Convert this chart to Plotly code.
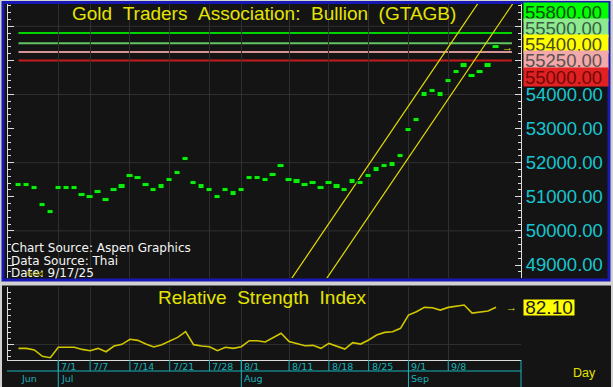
import plotly.graph_objects as go

W, H = 613, 387

# ---------------- data ----------------
dates = [
    "2025-06-24", "2025-06-25", "2025-06-26", "2025-06-27", "2025-06-30",
    "2025-07-01", "2025-07-02", "2025-07-03", "2025-07-04",
    "2025-07-07", "2025-07-08", "2025-07-09", "2025-07-10", "2025-07-11",
    "2025-07-14", "2025-07-15", "2025-07-16", "2025-07-17", "2025-07-18",
    "2025-07-21", "2025-07-22", "2025-07-23", "2025-07-24", "2025-07-25",
    "2025-07-28", "2025-07-29", "2025-07-30", "2025-07-31",
    "2025-08-01", "2025-08-04", "2025-08-05", "2025-08-06", "2025-08-07", "2025-08-08",
    "2025-08-11", "2025-08-12", "2025-08-13", "2025-08-14", "2025-08-15",
    "2025-08-18", "2025-08-19", "2025-08-20", "2025-08-21", "2025-08-22",
    "2025-08-25", "2025-08-26", "2025-08-27", "2025-08-28", "2025-08-29",
    "2025-09-01", "2025-09-02", "2025-09-03", "2025-09-04", "2025-09-05",
    "2025-09-08", "2025-09-09", "2025-09-10", "2025-09-11", "2025-09-12",
    "2025-09-15", "2025-09-16",
]

price = [
    51350, 51350, 51250, 50750, 50550,
    51250, 51250, 51250, 51050, 51000, 51150, 50900, 51200, 51300, 51600,
    51550, 51350, 51200, 51300, 51500, 51700, 52100, 51400, 51300, 51200,
    51000, 51200, 51100,
    51200, 51550, 51550, 51500, 51650, 51900, 51500, 51450, 51350, 51400,
    51250, 51400, 51300, 51200, 51450, 51400, 51600, 51800, 51900, 51950,
    52200,
    52950, 53250, 54000, 54100, 54000, 54400, 54650, 54850, 54550, 54650,
    54850, 55400,
]

rsi = [
    46.6, 46.6, 45.2, 39.7, 38.5,
    47.5, 47.5, 47.5, 45.7, 44.6, 46.6, 43.7, 48.6, 50.1, 54.4,
    53.5, 50.3, 47.8, 49.8, 52.7, 56.1, 61.0, 49.8, 48.6, 48.0,
    44.6, 47.5, 46.6,
    48.0, 53.2, 53.2, 52.1, 55.5, 59.6, 52.4, 50.9, 48.9, 49.2,
    46.6, 50.9, 48.6, 46.0, 51.5, 50.3, 53.8, 58.1, 60.4, 61.0,
    63.9,
    75.4, 78.3, 82.0, 81.7, 79.7, 82.0, 82.9, 84.0, 77.1, 78.0,
    78.8, 82.1,
]

tick_dates = ["2025-07-01", "2025-07-07", "2025-07-14", "2025-07-21", "2025-07-28",
              "2025-08-01", "2025-08-11", "2025-08-18", "2025-08-25", "2025-09-01",
              "2025-09-08"]
tick_labels = ["7/1", "7/7", "7/14", "7/21", "7/28", "8/1", "8/11", "8/18", "8/25",
               "9/1", "9/8"]
month_labels = ["Jun", "Jul", "Aug", "Sep"]

price_axis_ticks = [49000, 50000, 51000, 52000, 53000, 54000, 55000, 56000]
price_label_ticks = [49000, 50000, 51000, 52000, 53000, 54000]
price_grid = [50000, 52000, 54000, 56000]

level_values = [55800, 55500, 55250, 55000]
level_line_colors = ["#00d400", "#62c462", "#d49494", "#c41c1c"]
level_box_colors = ["#00ff00", "#8fe98f", "#f3a9a9", "#e12121"]
level_text_colors = ["#0b4a0b", "#35603f", "#5b5252", "#6e0808"]

# trend channel (anchor trading-day index, price) and slope per day
channel_anchors = [(41.0, 50906), (45.4, 50906)]
channel_slope = 344.6

rsi_ticks = [50]

# ---------------- geometry / styles ----------------
def px(x):
    return x / W


def py(y):
    return 1 - y / H


PLOT_L, PLOT_R = 7.5, 521
MAIN_T, MAIN_B = 4, 278
RSI_T, RSI_B = 287, 360
x_range = [-1.38, 63.14]
price_range = [48619, 56654]
rsi_range = [36.55, 99.6]

ARIAL = "Liberation Sans, Arial, sans-serif"
SMALL = "DejaVu Sans, Verdana, sans-serif"
YELLOW = "#e4e400"
CYAN = "#17c6d0"
CYAN2 = "#19b3bb"
AXIS = "#dcdcdc"
GRID = "#2f2f2f"
DARK = "#141414"
BAR_H = 125

n = len(dates)
idx = list(range(n))
pos = {d: i for i, d in enumerate(dates)}
tick_pos = [pos[d] for d in tick_dates]
month_pos = []
prev = None
for i, d in enumerate(dates):
    if d[5:7] != prev:
        month_pos.append(i)
        prev = d[5:7]

fig = go.Figure()

# trend channel
for ax_, ap in channel_anchors:
    xs = [ax_ - 12, ax_ + 22]
    ys = [ap + channel_slope * (x - ax_) for x in xs]
    fig.add_trace(go.Scatter(x=xs, y=ys, mode="lines", xaxis="x", yaxis="y",
                             line=dict(color="#e2de00", width=1.2), hoverinfo="skip"))

# price markers (small green rectangles)
fig.add_trace(go.Bar(x=idx, y=[BAR_H] * n, base=[p - BAR_H / 2 for p in price],
                     width=0.8, xaxis="x", yaxis="y2",
                     marker=dict(color="#10ee10", line=dict(color="#021802", width=0.9)),
                     hoverinfo="skip"))

# RSI
fig.add_trace(go.Scatter(x=idx, y=rsi, mode="lines", xaxis="x2", yaxis="y3",
                         line=dict(color="#d0c600", width=1.6), hoverinfo="skip"))

shapes = []
# panel backgrounds
shapes.append(dict(type="rect", xref="paper", yref="paper", x0=px(3), x1=px(609),
                   y0=py(280.5), y1=py(2), fillcolor=DARK, line=dict(width=0), layer="below"))
shapes.append(dict(type="rect", xref="paper", yref="paper", x0=px(2), x1=px(611),
                   y0=py(387), y1=py(285.5), fillcolor=DARK, line=dict(width=0), layer="below"))
# horizontal grid of price panel
for g in price_grid:
    shapes.append(dict(type="line", xref="x", yref="y", x0=x_range[0], x1=x_range[1],
                       y0=g, y1=g, line=dict(color=GRID, width=1), layer="below"))
# level lines
for v, c in zip(level_values, level_line_colors):
    shapes.append(dict(type="line", xref="x", yref="y", x0=0, x1=n + 1, y0=v, y1=v,
                       line=dict(color=c, width=2), layer="below"))
# blue frame around the price panel
shapes.append(dict(type="rect", xref="paper", yref="paper", x0=px(3), x1=px(609),
                   y0=py(280), y1=py(2.5), line=dict(color="#1818b4", width=3)))
# date strip lines
shapes.append(dict(type="line", xref="paper", yref="paper", x0=px(7), x1=px(PLOT_R),
                   y0=py(371), y1=py(371), line=dict(color=CYAN2, width=1)))
for t in tick_pos:
    shapes.append(dict(type="line", xref="x2", yref="paper", x0=t, x1=t,
                       y0=py(RSI_B), y1=py(371), line=dict(color=CYAN2, width=1)))
for m in month_pos[1:]:
    shapes.append(dict(type="line", xref="x2", yref="paper", x0=m, x1=m,
                       y0=py(RSI_B), y1=py(387), line=dict(color=CYAN2, width=1)))
shapes.append(dict(type="line", xref="paper", yref="paper", x0=px(PLOT_R), x1=px(PLOT_R),
                   y0=py(RSI_B), y1=py(387), line=dict(color=CYAN2, width=1)))

ann = []
sp = "\u00a0\u00a0"
ann.append(dict(text=sp.join(["Gold", "Traders", "Association:", "Bullion", "(GTAGB)"]),
                x=px(264), y=py(14), xref="paper", yref="paper", showarrow=False,
                xanchor="center", yanchor="middle",
                font=dict(family=ARIAL, size=19, color=YELLOW)))
ann.append(dict(text=sp.join(["Relative", "Strength", "Index"]),
                x=px(262), y=py(297), xref="paper", yref="paper", showarrow=False,
                xanchor="center", yanchor="middle",
                font=dict(family=ARIAL, size=19, color=YELLOW)))
for t, yy in zip(["Chart Source: Aspen Graphics", "Data Source: Thai", "Date: 9/17/25"],
                 [248, 260.5, 273]):
    ann.append(dict(text=t, x=px(9), y=py(yy), xref="paper", yref="paper", showarrow=False,
                    xanchor="left", yanchor="middle",
                    font=dict(family=SMALL, size=12, color="#f4f4f4")))
ann.append(dict(text="Gold", x=px(25), y=py(274), xref="paper", yref="paper",
                showarrow=False, xanchor="left", yanchor="middle",
                font=dict(family=SMALL, size=7, color="#b4b400")))

# stacked value boxes on the right
boxes = [(v, bg, fg) for v, bg, fg in zip(level_values, level_box_colors, level_text_colors)]
boxes.append((price[-1], "#ffff00", "#4a4a1e"))
boxes.sort(key=lambda b: -b[0])
for i, (v, bg, fg) in enumerate(boxes):
    ann.append(dict(text=f"{v:.2f}", x=px(523), y=py(MAIN_T + 8.1 + 16.1 * i),
                    xref="paper", yref="paper", showarrow=False, xanchor="left",
                    yanchor="middle", align="left", width=82, height=16, borderpad=1,
                    bgcolor=bg, font=dict(family=ARIAL, size=18.5, color=fg)))
ann.append(dict(text="\u2192", x=n - 1, y=price[-1], xref="x", yref="y", xshift=11,
                showarrow=False, font=dict(family=ARIAL, size=11, color=YELLOW)))
ann.append(dict(text=f"{rsi[-1]:.2f}", x=px(523), y=rsi[-1], xref="paper", yref="y3",
                showarrow=False, xanchor="left", yanchor="middle", width=50, height=15,
                borderpad=0, bgcolor="#ffff00",
                font=dict(family=ARIAL, size=19, color="#1c1c1c")))
ann.append(dict(text="\u2192", x=n - 1, y=rsi[-1], xref="x2", yref="y3", xshift=15,
                showarrow=False, font=dict(family=ARIAL, size=11, color=YELLOW)))
for t, lab in zip(tick_pos, tick_labels):
    ann.append(dict(text=lab, x=t, y=py(366.5), xref="x2", yref="paper", xanchor="left",
                    yanchor="middle", xshift=1, showarrow=False,
                    font=dict(family=SMALL, size=9.5, color=CYAN2)))
for m, lab in zip(month_pos, month_labels):
    ann.append(dict(text=lab, x=m, y=py(378.5), xref="x2", yref="paper", xanchor="left",
                    yanchor="middle", xshift=1, showarrow=False,
                    font=dict(family=SMALL, size=9.5, color=CYAN2)))
ann.append(dict(text="Day", x=px(584), y=py(373), xref="paper", yref="paper",
                showarrow=False, xanchor="center", yanchor="middle",
                font=dict(family=ARIAL, size=12.5, color=YELLOW)))

xdom = [px(PLOT_L), px(PLOT_R)]
minor_price = dict(tickmode="linear", tick0=0, dtick=200, ticks="inside", ticklen=3,
                   tickcolor=AXIS, showgrid=False)
minor_rsi = dict(tickmode="linear", tick0=0, dtick=5, ticks="inside", ticklen=3,
                 tickcolor=AXIS, showgrid=False)

fig.update_layout(
    width=W, height=H, margin=dict(l=0, r=0, t=0, b=0),
    paper_bgcolor="#d2d2d2", plot_bgcolor="rgba(0,0,0,0)",
    showlegend=False, bargap=0, shapes=shapes, annotations=ann,
    xaxis=dict(domain=xdom, range=x_range, anchor="y", tickmode="array",
               tickvals=tick_pos, showticklabels=False, ticks="", showgrid=True,
               gridcolor=GRID, gridwidth=1, zeroline=False, showline=False),
    xaxis2=dict(domain=xdom, range=x_range, anchor="y3", tickmode="array",
                tickvals=tick_pos, showticklabels=False, ticks="", showgrid=True,
                gridcolor=GRID, gridwidth=1, zeroline=False, showline=True,
                linecolor=AXIS, linewidth=1),
    yaxis=dict(domain=[py(MAIN_B), py(MAIN_T)], range=price_range, anchor="x",
               side="left", tickmode="array", tickvals=price_axis_ticks, ticks="inside",
               ticklen=6, tickcolor=AXIS, showticklabels=False, showgrid=False,
               zeroline=False, showline=True, linecolor=AXIS, minor=minor_price),
    yaxis2=dict(overlaying="y", anchor="x", side="right", range=price_range,
                tickmode="array", tickvals=price_axis_ticks,
                ticktext=[f"{v:.2f}" if v in price_label_ticks else "" for v in price_axis_ticks],
                tickfont=dict(family=ARIAL, size=18.5, color=CYAN),
                ticks="inside", ticklen=6, tickcolor=AXIS, showgrid=False,
                zeroline=False, showline=True, linecolor=AXIS, minor=minor_price),
    yaxis3=dict(domain=[py(RSI_B), py(RSI_T)], range=rsi_range, anchor="x2",
                side="left", tickmode="array", tickvals=rsi_ticks, ticks="inside",
                ticklen=6, tickcolor=AXIS, showticklabels=False, showgrid=True,
                gridcolor=GRID, zeroline=False, showline=True, linecolor=AXIS,
                minor=minor_rsi),
    yaxis4=dict(overlaying="y3", anchor="x2", side="right", range=rsi_range,
                tickmode="array", tickvals=rsi_ticks, ticktext=[str(v) for v in rsi_ticks],
                tickfont=dict(family=ARIAL, size=19, color=CYAN),
                ticks="inside", ticklen=6, tickcolor=AXIS, showgrid=False,
                zeroline=False, showline=True, linecolor=AXIS, minor=minor_rsi),
)

fig.write_html("out.html", config={"displayModeBar": False},
               post_script="document.body.style.margin='0px';document.body.style.overflow='hidden';")
